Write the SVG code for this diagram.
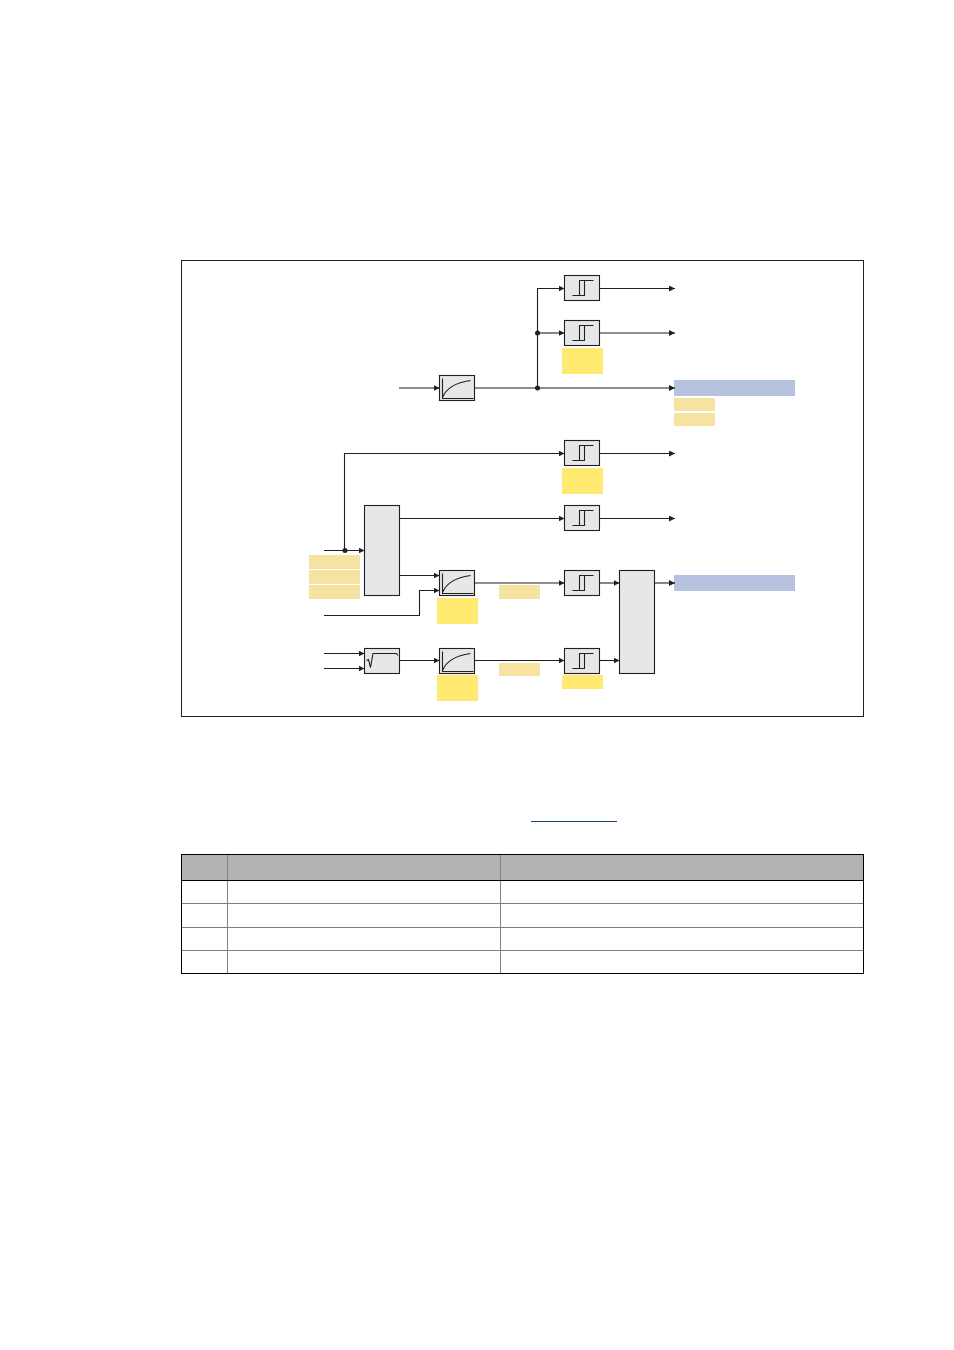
<svg xmlns="http://www.w3.org/2000/svg" width="954" height="1350" viewBox="0 0 954 1350">
<style>
.b{fill:#e6e7e8;stroke:#231f20;stroke-width:1.1}
.g{fill:none;stroke:#231f20;stroke-width:1.1}
.c{fill:none;stroke:#231f20;stroke-width:1.1}
.a{marker-end:url(#arr)}
.y{fill:#ffe970}
.t{fill:#f7e3a1}
.v{fill:#b7c3de}
.d{fill:#231f20}
.tg{stroke:#808080;stroke-width:1;fill:none}
.tk{stroke:#000;stroke-width:1;fill:none}
</style>
<defs>
<marker id="arr" markerUnits="userSpaceOnUse" markerWidth="7" markerHeight="6" refX="6" refY="3" orient="auto"><path d="M0 0L6 3L0 6Z" fill="#231f20"/></marker>
<g id="step"><rect class="b" x="0" y="0" width="35" height="25"/><path class="g" d="M8 20H20V5M15 20V5H29"/></g>
<g id="ramp"><rect class="b" x="0" y="0" width="35" height="25"/><path class="g" d="M3 3V23H34M3 22C7 12 17 7 31 5"/></g>
</defs>
<rect width="954" height="1350" fill="#fff"/>
<rect id="frame" x="181.5" y="260.5" width="682" height="456" fill="none" stroke="#231f20" stroke-width="1"/>
<g id="highlights">
<rect class="y" x="562" y="348" width="41" height="26"/>
<rect class="y" x="562" y="468" width="41" height="26"/>
<rect class="y" x="437" y="598" width="41" height="26"/>
<rect class="y" x="437" y="675" width="41" height="26"/>
<rect class="y" x="562" y="675" width="41" height="14"/>
<rect class="v" x="674" y="380" width="121" height="16"/>
<rect class="v" x="674" y="575" width="121" height="16"/>
<rect class="t" x="674" y="398" width="41" height="13"/>
<rect class="t" x="674" y="413" width="41" height="13"/>
<rect class="t" x="309" y="555" width="51" height="14"/>
<rect class="t" x="309" y="570" width="51" height="14"/>
<rect class="t" x="309" y="585" width="51" height="14"/>
<rect class="t" x="499" y="585" width="41" height="14"/>
<rect class="t" x="499" y="663" width="41" height="13"/>
</g>
<g id="connectors">
<path class="c a" d="M399 388H439.5"/>
<path class="c" d="M474.5 388H537.5"/>
<path class="c a" d="M537.5 388H675"/>
<path class="c a" d="M537.5 388V288.500H564.500"/>
<path class="c a" d="M537.500 333H564.500"/>
<path class="c a" d="M599.500 288.500H675"/>
<path class="c a" d="M599.500 333H675"/>
<path class="c a" d="M344.500 550.500V453.500H564.500"/>
<path class="c a" d="M599.500 453.500H675"/>
<path class="c a" d="M324 550.500H364.500"/>
<path class="c a" d="M399.500 518.500H564.500"/>
<path class="c a" d="M599.500 518.500H675"/>
<path class="c a" d="M399.500 575.500H439.500"/>
<path class="c a" d="M324 615.500H419.500V590.500H439.500"/>
<path class="c a" d="M474.500 583H564.500"/>
<path class="c a" d="M599.500 583H619.500"/>
<path class="c a" d="M654.500 583H675"/>
<path class="c a" d="M324 653.500H364.500"/>
<path class="c a" d="M324 668.500H364.500"/>
<path class="c a" d="M399.500 660.500H439.500"/>
<path class="c a" d="M474.500 660.500H564.500"/>
<path class="c a" d="M599.500 660.500H619.500"/>
<circle class="d" cx="537.500" cy="333" r="2.500"/>
<circle class="d" cx="537.500" cy="388" r="2.500"/>
<circle class="d" cx="345" cy="550.500" r="2.500"/>
</g>
<use id="step1" href="#step" x="564.500" y="275.500"/>
<use id="step2" href="#step" x="564.500" y="320.500"/>
<use id="step3" href="#step" x="564.500" y="440.500"/>
<use id="step4" href="#step" x="564.500" y="505.500"/>
<use id="step5" href="#step" x="564.500" y="570.500"/>
<use id="step6" href="#step" x="564.500" y="648.500"/>
<use id="ramp1" href="#ramp" x="439.500" y="375.500"/>
<use id="ramp2" href="#ramp" x="439.500" y="570.500"/>
<use id="ramp3" href="#ramp" x="439.500" y="648.500"/>
<g id="mux"><rect class="b" x="364.500" y="505.500" width="35" height="90"/></g>
<g id="combine"><rect class="b" x="619.500" y="570.500" width="35" height="103"/></g>
<g id="sqrt"><rect class="b" x="364.500" y="648.500" width="35" height="25"/><path class="g" d="M2 12L4 11L6 19L8.500 5H32L33.500 7" transform="translate(364.500 648.500)"/></g>
<rect id="link" x="531" y="821" width="86" height="1" fill="#17477e"/>
<g id="table">
<rect x="181.500" y="854.500" width="682" height="26" fill="#b2b2b2"/>
<path class="tg" d="M227.500 854.500V973.500M500.500 854.500V973.500M181.500 903.500H863.500M181.500 927.500H863.500M181.500 950.500H863.500"/>
<rect class="tk" x="181.500" y="854.500" width="682" height="119"/>
<path class="tk" d="M181.500 880.500H863.500"/>
</g>
</svg>
